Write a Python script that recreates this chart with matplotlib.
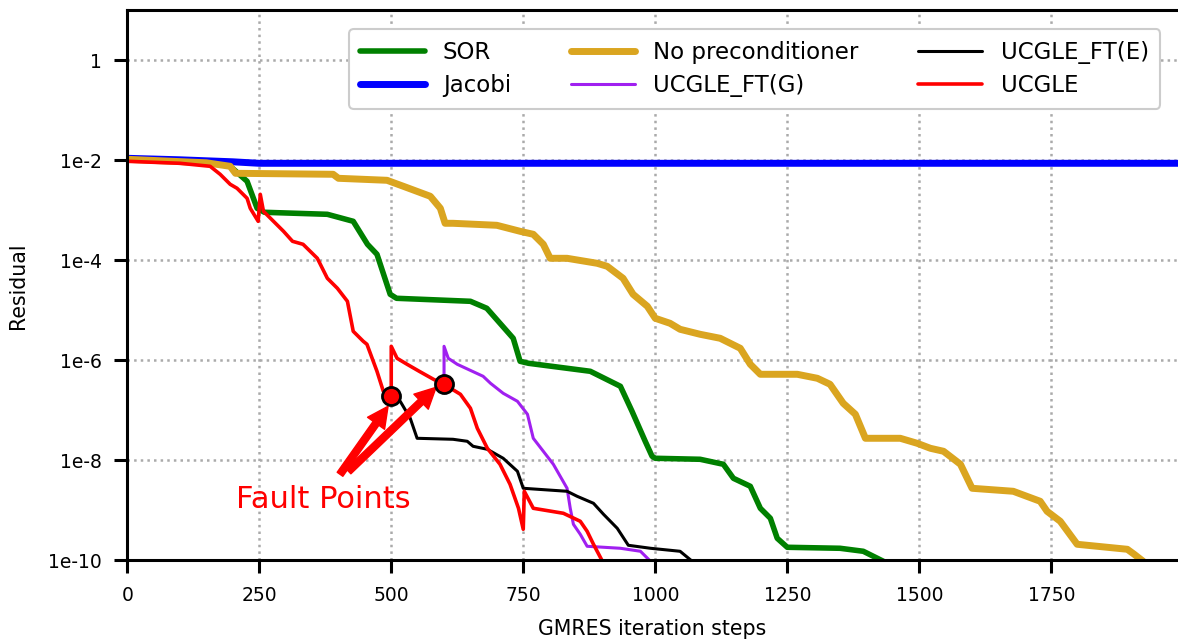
import matplotlib
matplotlib.use('Agg')
import matplotlib.pyplot as plt
import numpy as np

plt.rcParams['font.family'] = ['DejaVu Sans']

# residual curves (x = iteration, y = log10 residual)
sor_x = [0, 150, 195, 227, 246, 260, 379, 428, 455, 473, 498, 510, 650, 681, 731, 744,
         760, 877, 934, 956, 981, 994, 1000, 1085, 1129, 1148, 1180, 1199, 1218, 1231,
         1250, 1350, 1394, 1413, 1432]
sor_y = [-1.98, -2.04, -2.12, -2.42, -2.96, -3.04, -3.08, -3.22, -3.68, -3.88, -4.68,
         -4.76, -4.82, -4.96, -5.56, -6.02, -6.06, -6.22, -6.52, -7.02, -7.62, -7.92,
         -7.96, -7.98, -8.08, -8.36, -8.52, -8.96, -9.16, -9.56, -9.74, -9.76, -9.82,
         -9.92, -10.02]

jac_x = [0, 100, 200, 250, 500, 1000, 1500, 1990]
jac_y = [-1.96, -1.99, -2.03, -2.06, -2.06, -2.06, -2.06, -2.06]

nop_x = [0, 150, 195, 205, 390, 400, 492, 523, 574, 593, 602, 617, 700, 744, 769, 788,
         801, 833, 890, 909, 939, 958, 985, 1000, 1028, 1047, 1085, 1123, 1161, 1180,
         1199, 1269, 1307, 1331, 1356, 1379, 1398, 1464, 1496, 1521, 1546, 1578, 1600,
         1678, 1729, 1742, 1767, 1799, 1894, 1907, 1924]
nop_y = [-1.98, -2.05, -2.12, -2.26, -2.28, -2.36, -2.40, -2.52, -2.72, -2.96, -3.26,
         -3.26, -3.30, -3.42, -3.48, -3.68, -3.96, -3.96, -4.06, -4.12, -4.36, -4.68,
         -4.92, -5.16, -5.26, -5.38, -5.48, -5.56, -5.76, -6.08, -6.28, -6.28, -6.36,
         -6.48, -6.86, -7.08, -7.56, -7.56, -7.66, -7.76, -7.82, -8.08, -8.56, -8.62,
         -8.82, -9.02, -9.22, -9.68, -9.78, -9.88, -10.02]

ftg_x = [600, 600, 608, 625, 674, 688, 712, 739, 758, 769, 788, 807, 833, 839, 845, 858,
         871, 934, 972, 991]
ftg_y = [-6.48, -5.72, -5.96, -6.08, -6.32, -6.46, -6.66, -6.82, -7.08, -7.56, -7.82,
         -8.08, -8.56, -8.96, -9.28, -9.48, -9.72, -9.76, -9.82, -10.02]

fte_x = [500, 517, 536, 549, 617, 644, 655, 682, 712, 739, 750, 833, 852, 883, 902, 928,
         949, 991, 1047, 1070]
fte_y = [-6.72, -6.82, -7.16, -7.56, -7.58, -7.62, -7.72, -7.78, -7.96, -8.22, -8.56,
         -8.62, -8.72, -8.86, -9.08, -9.36, -9.70, -9.76, -9.82, -10.02]

ucg_x = [0, 100, 157, 176, 195, 208, 227, 233, 248, 252, 258, 277, 296, 313, 333, 360,
         379, 398, 417, 428, 447, 454, 473, 485, 500, 500, 511, 530, 553, 580, 600, 631,
         650, 663, 682, 706, 725, 741, 750, 752, 769, 826, 858, 871, 883, 900]
ucg_y = [-2.02, -2.06, -2.12, -2.28, -2.48, -2.56, -2.76, -2.96, -3.22, -2.68, -3.02,
         -3.22, -3.42, -3.62, -3.68, -3.96, -4.36, -4.56, -4.82, -5.42, -5.62, -5.68,
         -6.22, -6.62, -6.72, -5.72, -5.96, -6.08, -6.22, -6.38, -6.48, -6.68, -6.96,
         -7.36, -7.76, -8.08, -8.48, -8.96, -9.38, -8.62, -8.96, -9.06, -9.22, -9.42,
         -9.68, -10.02]

fault_x = [500, 600]
fault_y = [-6.72, -6.48]

yticks = [1e-10, 1e-8, 1e-6, 1e-4, 1e-2, 1]
ytick_labels = ['1e-10', '1e-8', '1e-6', '1e-4', '1e-2', '1']
xticks = [0, 250, 500, 750, 1000, 1250, 1500, 1750]

fig = plt.figure(figsize=(11.78, 6.44), dpi=100)
ax = fig.add_axes([0.108, 0.130, 0.892, 0.854])

p = lambda v: 10.0 ** np.array(v)
kw = dict(solid_joinstyle='round', solid_capstyle='round')
ax.plot(sor_x, p(sor_y), color='green', lw=4, label='SOR', **kw)
ax.plot(jac_x, p(jac_y), color='blue', lw=5, label='Jacobi', **kw)
ax.plot(nop_x, p(nop_y), color='goldenrod', lw=5, label='No preconditioner', **kw)
ax.plot(ftg_x, p(ftg_y), color='#a020f0', lw=2.2, label='UCGLE_FT(G)', **kw)
ax.plot(fte_x, p(fte_y), color='black', lw=2.2, label='UCGLE_FT(E)', **kw)
ax.plot(ucg_x, p(ucg_y), color='red', lw=2.6, label='UCGLE', **kw)
ax.plot(fault_x, p(fault_y), 'o', color='red', mec='black', mew=2, ms=13, zorder=5)

# arrows pointing to the faults
for hx, hy, tx, ty in [(494, -6.92, 403, -8.28), (585, -6.54, 419, -8.22)]:
    ax.annotate('', xy=(hx, 10 ** hy), xytext=(tx, 10 ** ty),
                arrowprops=dict(color='red', width=5, headwidth=15, headlength=15))
ax.text(371, 10 ** -8.78, 'Fault Points', color='red', fontsize=22,
        ha='center', va='center')

ax.set_yscale('log')
ax.set_xlim(0, 1990)
ax.set_ylim(1e-10, 10)
ax.set_yticks(yticks)
ax.set_yticklabels(ytick_labels)
ax.minorticks_off()
ax.set_xticks(xticks)
ax.tick_params(labelsize=13.5, width=2.2, length=9.5, pad=9, direction='out')
ax.grid(True, ls=':', color='#aaaaaa', lw=1.8)
ax.set_xlabel('GMRES iteration steps', fontsize=14.8, labelpad=10)
ax.set_ylabel('Residual', fontsize=14.8, labelpad=14)
for s in ['top', 'left', 'bottom']:
    ax.spines[s].set_linewidth(2.2)
ax.spines['right'].set_visible(False)

leg = ax.legend(ncol=3, loc='upper right', fontsize=16.5, framealpha=1,
                edgecolor='#cccccc', handlelength=2.8, handletextpad=0.8,
                columnspacing=2.6, labelspacing=0.45, borderpad=0.5,
                bbox_to_anchor=(0.994, 0.986))
leg.get_frame().set_linewidth(1.5)

fig.savefig('out.png', dpi=100)
